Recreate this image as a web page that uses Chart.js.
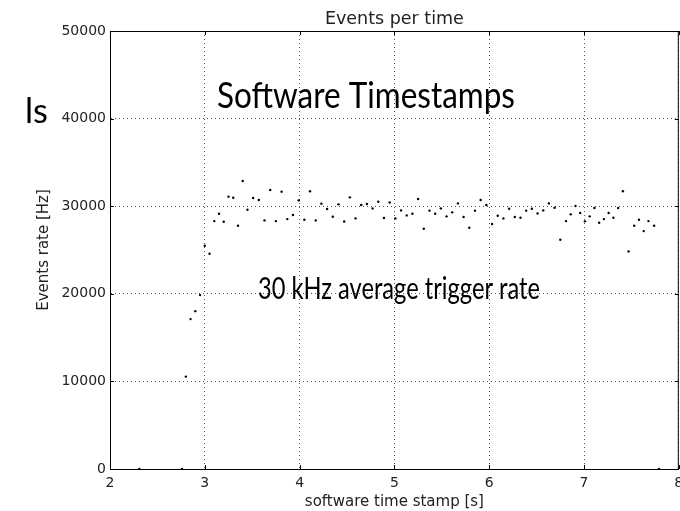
<!DOCTYPE html>
<html>
<head>
<meta charset="utf-8">
<script src="https://cdn.jsdelivr.net/npm/chart.js@4"></script>
<style>
  html, body { margin: 0; padding: 0; background: #fff; }
  #wrap { width: 680px; height: 511px; }
</style>
</head>
<body>
<div id="wrap"><canvas id="myChart" width="680" height="511"></canvas></div>
<script>
// time stamps [s] and rates [Hz]
const times = [
  2.31, 2.76, 2.80, 2.85, 2.90, 2.95, 3.00, 3.05, 3.10, 3.15, 3.20, 3.25, 3.30, 3.35, 3.40, 3.45,
  3.51, 3.57, 3.63, 3.69, 3.75, 3.81, 3.87, 3.93, 3.99, 4.05, 4.11, 4.17, 4.23, 4.29,
  4.35, 4.41, 4.47, 4.53, 4.59, 4.65, 4.71, 4.77, 4.83, 4.89, 4.95, 5.01, 5.07, 5.13,
  5.19, 5.25, 5.31, 5.37, 5.43, 5.49, 5.55, 5.61, 5.67, 5.73, 5.79, 5.85, 5.91, 5.97,
  6.03, 6.09, 6.15, 6.21, 6.27, 6.33, 6.39, 6.45, 6.51, 6.57, 6.63, 6.69, 6.75, 6.81,
  6.86, 6.91, 6.96, 7.01, 7.06, 7.11, 7.16, 7.21, 7.26, 7.31, 7.36, 7.41, 7.47, 7.53,
  7.58, 7.63, 7.68, 7.74, 7.79
];
const rates = [
  0, 0, 10550, 17110, 18020, 19850, 25490, 24570, 28300, 29140, 28230, 31090, 30970, 27770, 32880, 29600,
  30930, 30700, 28380, 31850, 28300, 31660, 28530, 29000, 30660, 28460, 31700, 28380, 30290, 29680,
  28800, 30210, 28260, 31010, 28610, 30130, 30250, 29750, 30510, 28650, 30430, 28610, 29520, 28950,
  29140, 30820, 27430, 29490, 29140, 29750, 28840, 29300, 30320, 28760, 27540, 29490, 30700, 30130,
  27960, 28910, 28610, 29710, 28760, 28690, 29490, 29710, 29180, 29520, 30320, 29830, 26170, 28300,
  29070, 30020, 29220, 28270, 28840, 29790, 28110, 28530, 29220, 28690, 29790, 31700, 24840, 27770,
  28460, 27160, 28300, 27770, 0
];
const xTicks = [2, 3, 4, 5, 6, 7, 8];
const yTicks = [0, 10000, 20000, 30000, 40000, 50000];

const chartTitle = 'Events per time';
const xLabel = 'software time stamp [s]';
const yLabel = 'Events rate [Hz]';
const overlayTitle = 'Software Timestamps';
const overlayNote = '30 kHz average trigger rate';
const overlayEdge = 'ls';

const tickFont = { family: 'DejaVu Sans', size: 14 };
const labelFont = { family: 'DejaVu Sans', size: 15 };

// draws text at a given size, fitted sideways to a given width
function fitText(ctx, text, x, y, size, width) {
  ctx.font = size + 'px Lato';
  const w = ctx.measureText(text).width;
  ctx.save();
  ctx.translate(x, y);
  ctx.scale(width / w, 1);
  ctx.fillText(text, 0, 0);
  ctx.restore();
}

// frame, inward ticks, title and slide text
const decorations = {
  id: 'decorations',
  afterDraw(chart) {
    const ctx = chart.ctx;
    const a = chart.chartArea;
    const xs = chart.scales.x, ys = chart.scales.y;
    ctx.save();
    ctx.strokeStyle = '#000';
    ctx.lineWidth = 1;
    ctx.strokeRect(a.left + 0.5, a.top + 0.5, a.right - a.left - 1, a.bottom - a.top);
    ctx.beginPath();
    xTicks.forEach(t => {
      const px = Math.round(xs.getPixelForValue(t)) + 0.5;
      ctx.moveTo(px, a.bottom); ctx.lineTo(px, a.bottom - 4);
      ctx.moveTo(px, a.top); ctx.lineTo(px, a.top + 4);
    });
    yTicks.forEach(t => {
      const py = Math.round(ys.getPixelForValue(t)) + 0.5;
      ctx.moveTo(a.left, py); ctx.lineTo(a.left + 4, py);
      ctx.moveTo(a.right, py); ctx.lineTo(a.right - 4, py);
    });
    ctx.stroke();

    ctx.fillStyle = '#222';
    ctx.font = '17.5px "DejaVu Sans"';
    ctx.textAlign = 'center';
    ctx.textBaseline = 'alphabetic';
    ctx.fillText(chartTitle, (a.left + a.right) / 2, 24);

    ctx.fillStyle = '#000';
    ctx.textAlign = 'left';
    fitText(ctx, overlayTitle, 217, 108, 36, 298);
    fitText(ctx, overlayNote, 258, 299, 30, 282);
    fitText(ctx, overlayEdge, 25, 123, 34, 23);
    ctx.restore();
  }
};

window.addEventListener('load', setup);

function setup() {
  const ctx = document.getElementById('myChart').getContext('2d');
  const points = times.map((t, i) => ({ x: t, y: rates[i] }));
  new Chart(ctx, {
    type: 'scatter',
    data: {
      datasets: [{
        label: 'rate',
        data: points,
        pointRadius: 1.2,
        pointHoverRadius: 1.2,
        pointBorderWidth: 0,
        backgroundColor: '#000',
        borderColor: '#000'
      }]
    },
    options: {
      responsive: false,
      animation: false,
      layout: { padding: { top: 31, right: 1, bottom: 0, left: 0 } },
      plugins: {
        legend: { display: false },
        tooltip: { enabled: false },
        title: { display: false }
      },
      scales: {
        x: {
          type: 'linear',
          min: 2, max: 8,
          afterFit(scale) { scale.height = 42; scale.paddingLeft = 0; scale.paddingRight = 0; },
          afterBuildTicks(scale) { scale.ticks = xTicks.map(v => ({ value: v })); },
          grid: { color: '#555', lineWidth: 1, drawTicks: false },
          border: { display: true, color: '#000', dash: [1, 3] },
          ticks: { color: '#222', font: tickFont, padding: 6, maxRotation: 0 },
          title: { display: true, text: xLabel, color: '#222', font: labelFont, padding: { top: 0, bottom: 0 } }
        },
        y: {
          type: 'linear',
          min: 0, max: 50000,
          afterFit(scale) { scale.width = 110; scale.paddingTop = 0; scale.paddingBottom = 0; },
          afterBuildTicks(scale) { scale.ticks = yTicks.map(v => ({ value: v })); },
          grid: { color: '#555', lineWidth: 1, drawTicks: false },
          border: { display: true, color: '#000', dash: [1, 3] },
          ticks: { color: '#222', font: tickFont, padding: 4, callback: v => String(v) },
          title: { display: true, text: yLabel, color: '#222', font: labelFont, padding: { top: 35, bottom: 0 } }
        }
      }
    },
    plugins: [decorations]
  });
}
</script>
</body>
</html>
